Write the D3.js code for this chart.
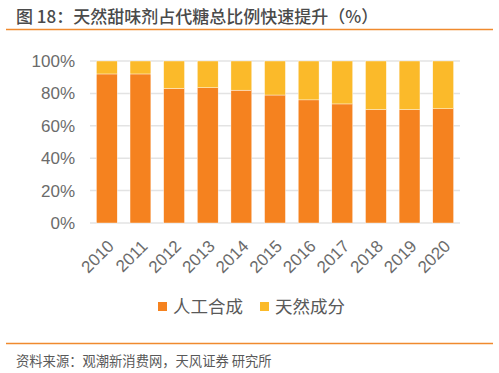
<!DOCTYPE html>
<html>
<head>
<meta charset="utf-8">
<script src="https://cdn.jsdelivr.net/npm/d3@7"></script>
<style>
  body { margin: 0; background: #fff; }
  svg { display: block; }
</style>
</head>
<body>
<svg></svg>
<script>
// chart data
const years = ["2010", "2011", "2012", "2013", "2014", "2015", "2016", "2017", "2018", "2019", "2020"];
const synthetic = [92, 92, 83, 83.5, 82, 79, 76, 73.5, 70, 70, 70.5];
const natural = synthetic.map(v => 100 - v);
const seriesNames = ["人工合成", "天然成分"];
const yTicks = [0, 20, 40, 60, 80, 100];

drawChart();

function drawChart(){
    const width = 499;
    const height = 373;
    const colors = ["#F5821F", "#FBBA2A"];
    const cjk = "'Noto Sans CJK SC', 'Noto Sans', sans-serif";
    const latin = "'Liberation Sans', Arial, sans-serif";

    const svg = d3.select("svg")
                    .attr("width", width)
                    .attr("height", height);

    // title + rules
    svg.append("text")
        .attr("x", 16)
        .attr("y", 23)
        .style("font-family", cjk)
        .style("font-size", "17px")
        .style("font-weight", 500)
        .style("fill", "#4a4a4a")
        .text("图 18：天然甜味剂占代糖总比例快速提升（%）");

    svg.append("line")
        .attr("x1", 6).attr("x2", 493)
        .attr("y1", 29.5).attr("y2", 29.5)
        .style("stroke", "#F08A2E")
        .style("stroke-width", 1.5);

    svg.append("line")
        .attr("x1", 6).attr("x2", 493)
        .attr("y1", 343.5).attr("y2", 343.5)
        .style("stroke", "#F08A2E")
        .style("stroke-width", 1.5);

    svg.append("text")
        .attr("x", 16)
        .attr("y", 366)
        .style("font-family", cjk)
        .style("font-size", "13.3px")
        .style("fill", "#595959")
        .text("资料来源：观潮新消费网，天风证券 研究所");

    // scales
    const plot = {left: 90, right: 460, top: 61, bottom: 223};

    const xScale = d3.scaleBand()
                        .domain(years)
                        .range([plot.left, plot.right])
                        .paddingInner(0.38)
                        .paddingOuter(0.19);

    const yScale = d3.scaleLinear()
                        .domain([0, 100])
                        .range([plot.bottom, plot.top]);

    // gridlines
    svg.append("g")
        .selectAll("line")
        .data(yTicks)
        .enter()
        .append("line")
        .attr("x1", plot.left)
        .attr("x2", plot.right)
        .attr("y1", d => yScale(d))
        .attr("y2", d => yScale(d))
        .style("stroke", "#e3e3e3")
        .style("stroke-width", 1.5);

    // y axis labels
    const yAxis = d3.axisLeft(yScale)
                    .tickValues(yTicks)
                    .tickSize(0)
                    .tickPadding(15)
                    .tickFormat(d => d + "%");

    const yG = svg.append("g")
        .attr("transform", `translate(${plot.left}, 0)`)
        .call(yAxis);
    yG.select(".domain").remove();
    yG.selectAll("text")
        .style("font-family", latin)
        .style("font-size", "17px")
        .style("fill", "#6b6b6b");

    // stacked bars
    const rows = years.map((y, i) => ({year: y, s0: synthetic[i], s1: natural[i]}));
    const stack = d3.stack().keys(["s0", "s1"])(rows);

    svg.append("g")
        .selectAll("g")
        .data(stack)
        .enter()
        .append("g")
        .style("fill", (d, i) => colors[i])
        .selectAll("rect")
        .data(d => d)
        .enter()
        .append("rect")
        .attr("x", d => xScale(d.data.year))
        .attr("width", xScale.bandwidth())
        .attr("y", d => yScale(d[1]))
        .attr("height", d => yScale(d[0]) - yScale(d[1]))
        .style("stroke", "#fff")
        .style("stroke-width", 0.4);

    // x axis labels (rotated)
    const xAxis = d3.axisBottom(xScale).tickSize(0).tickPadding(0);
    const xG = svg.append("g")
        .attr("transform", `translate(0, ${plot.bottom})`)
        .call(xAxis);
    xG.select(".domain").remove();
    xG.selectAll("text")
        .style("font-family", latin)
        .style("font-size", "17px")
        .style("fill", "#6b6b6b")
        .style("text-anchor", "end")
        .attr("dy", "0.35em")
        .attr("transform", "translate(4, 20) rotate(-45)");

    // legend
    const legendX = [158, 260];
    const legend = svg.append("g")
        .selectAll("g")
        .data(seriesNames)
        .enter()
        .append("g")
        .attr("transform", (d, i) => `translate(${legendX[i]}, 302)`);

    legend.append("rect")
        .attr("width", 9)
        .attr("height", 9)
        .style("fill", (d, i) => colors[i]);

    legend.append("text")
        .attr("x", 15)
        .attr("y", 11)
        .style("font-family", cjk)
        .style("font-size", "17.5px")
        .style("fill", "#595959")
        .text(d => d);
}
</script>
</body>
</html>
